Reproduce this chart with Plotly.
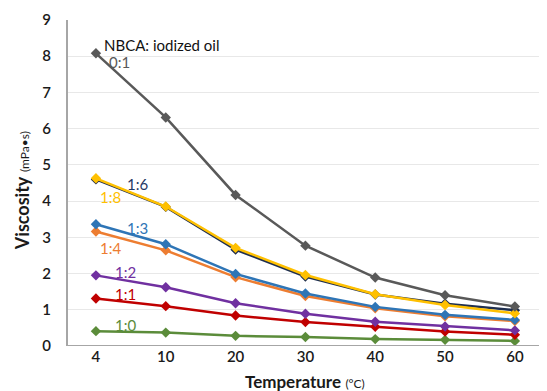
import plotly.graph_objects as go

temps = ["4", "10", "20", "30", "40", "50", "60"]
v_1_0 = [0.41, 0.37, 0.28, 0.25, 0.19, 0.17, 0.14]
v_1_1 = [1.31, 1.10, 0.84, 0.66, 0.53, 0.40, 0.31]
v_1_2 = [1.95, 1.62, 1.18, 0.89, 0.67, 0.54, 0.43]
v_1_4 = [3.16, 2.64, 1.90, 1.38, 1.04, 0.82, 0.69]
v_1_3 = [3.36, 2.81, 1.99, 1.45, 1.08, 0.86, 0.72]
v_1_8 = [4.63, 3.85, 2.71, 1.96, 1.43, 1.13, 0.90]
v_1_6 = [4.60, 3.84, 2.66, 1.92, 1.42, 1.17, 0.99]
v_0_1 = [8.08, 6.31, 4.17, 2.77, 1.89, 1.40, 1.09]

series = [v_1_0, v_1_1, v_1_2, v_1_4, v_1_3, v_1_6, v_1_8, v_0_1]
names = ["1:0", "1:1", "1:2", "1:4", "1:3", "1:6", "1:8", "0:1"]
colors = ["#5B8C3A", "#C00000", "#7030A0", "#ED7D31", "#2E75B6", "#1F2F4F", "#FFC000", "#595959"]
label_colors = {"1:0": "#5B8C3A", "1:1": "#C00000", "1:2": "#7030A0", "1:4": "#ED7D31",
                "1:3": "#2E75B6", "1:6": "#1F3864", "1:8": "#FFC000", "0:1": "#595959"}
label_pos = {"1:0": (0.42, 0.58), "1:1": (0.42, 1.44), "1:2": (0.42, 2.04), "1:4": (0.21, 2.71),
             "1:3": (0.59, 3.26), "1:8": (0.21, 4.12), "1:6": (0.59, 4.47), "0:1": (0.34, 7.85)}

xidx = list(range(len(temps)))
fig = go.Figure()
for name, vals, col in zip(names, series, colors):
    fig.add_trace(go.Scatter(x=xidx, y=vals, mode="lines+markers", name=name,
                             line=dict(color=col, width=2.5),
                             marker=dict(symbol="diamond", size=8, color=col)))

for name in names:
    x, y = label_pos[name]
    fig.add_annotation(x=x, y=y, xref="x", yref="y", text=name, showarrow=False,
                       font=dict(family="Lato", size=15, color=label_colors[name]))
fig.add_annotation(x=0.086, y=8.31, xref="x", yref="y", text="NBCA: iodized oil",
                   showarrow=False, xanchor="left",
                   font=dict(family="Lato", size=15, color="#111111"))

# axis titles
fig.add_annotation(x=-0.096, y=0.475, xref="paper", yref="paper", textangle=-90,
                   xanchor="center", yanchor="middle",
                   text="<b>Viscosity</b> <span style='font-size:12px'>(mPa•s)</span>",
                   showarrow=False, font=dict(family="Lato", size=18, color="#1a1a1a"))
fig.add_annotation(x=0.495, y=-0.11, xref="paper", yref="paper",
                   xanchor="center", yanchor="middle",
                   text="<b>Temperature</b> <span style='font-size:12px'>(°C)</span>",
                   showarrow=False, font=dict(family="Lato", size=17, color="#1a1a1a"))

# page body has an 8px margin, so the figure is offset by (8, 8)
fig.update_layout(
    width=539, height=383,
    margin=dict(l=60, r=0, t=12, b=45),
    plot_bgcolor="white", paper_bgcolor="white",
    showlegend=False,
    font=dict(family="Lato", color="#1a1a1a"),
    xaxis=dict(range=[-0.40, 6.46], tickvals=xidx, ticktext=temps, showgrid=False,
               zeroline=False, showline=False, ticks="", automargin=False,
               tickfont=dict(size=15, color="#1a1a1a", weight=600)),
    yaxis=dict(range=[0, 9], dtick=1, showgrid=True, gridcolor="#E8E8E8", gridwidth=1,
               zeroline=False, showline=True, linecolor="#A6A6A6", linewidth=2, ticks="",
               automargin=False, ticklabelstandoff=12,
               tickfont=dict(size=15, color="#1a1a1a", weight=600)),
)
fig.add_hline(y=0, line=dict(color="#A6A6A6", width=2))
fig.write_html("out.html")
